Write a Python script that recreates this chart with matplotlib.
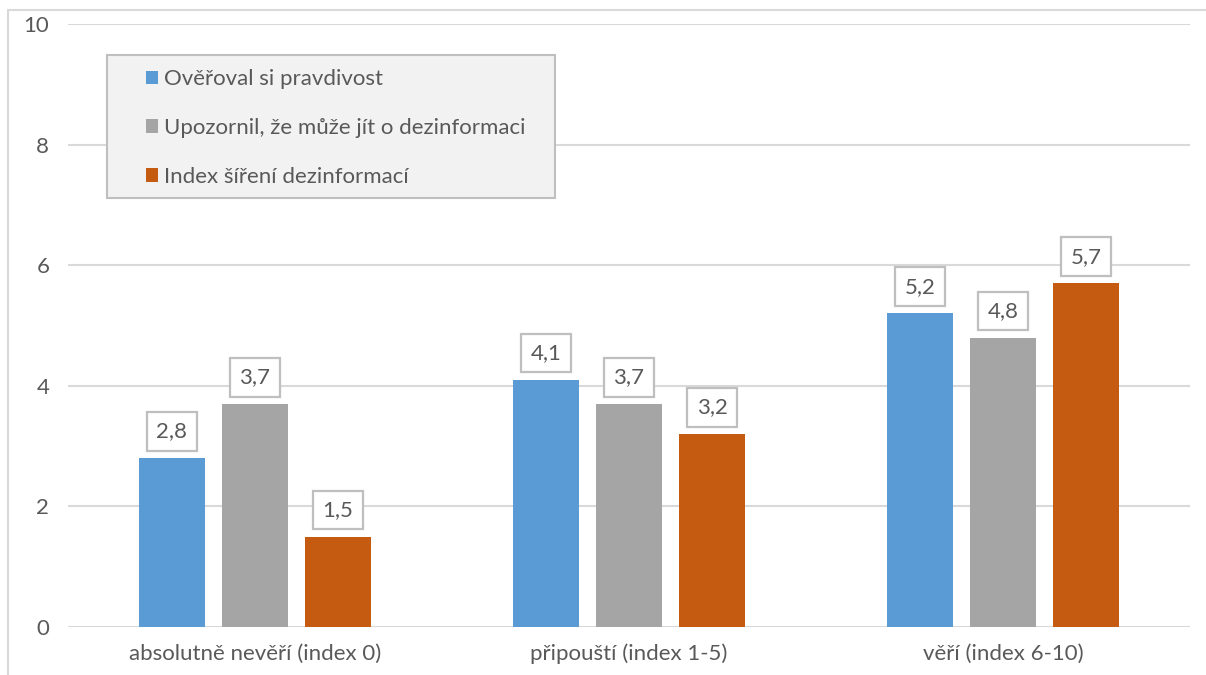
import numpy as np
import matplotlib.pyplot as plt
from matplotlib.patches import Rectangle

plt.rcParams['font.family'] = ['Lato', 'DejaVu Sans']

categories = ['absolutně nevěří (index 0)', 'připouští (index 1-5)', 'věří (index 6-10)']
series = ['Ověřoval si pravdivost', 'Upozornil, že může jít o dezinformaci', 'Index šíření dezinformací']
overoval = [2.8, 4.1, 5.2]
upozornil = [3.7, 3.7, 4.8]
index_sireni = [1.5, 3.2, 5.7]
colors = ['#5b9bd5', '#a5a5a5', '#c55a11']

text_col = '#595959'
grid_col = '#d9d9d9'

W, H = 1206, 675
fig = plt.figure(figsize=(W/100, H/100), dpi=100)
ax = fig.add_axes([68/W, 1-627/H, 1122/W, 603/H])

# outer chart frame
fig.patches.append(Rectangle((8/W, -0.1), 1.2, 1-10/H+0.1, transform=fig.transFigure,
                             fill=False, ec=grid_col, lw=1.5))

x = np.arange(len(categories))
w = 0.174
step = 0.222
for i, (vals, col, name) in enumerate(zip([overoval, upozornil, index_sireni], colors, series)):
    pos = x + (i - 1) * step
    ax.bar(pos, vals, width=w, color=col, label=name, zorder=3)
    for px, v in zip(pos, vals):
        ax.annotate(f'{v:.1f}'.replace('.', ','), (px, v), xytext=(0, 12), textcoords='offset points',
                    ha='center', va='bottom', fontsize=16, color=text_col, zorder=4,
                    bbox=dict(boxstyle='square,pad=0.42', fc='white', ec='#bfbfbf', lw=1.6))

ax.set_xlim(-0.5, 2.5)
ax.set_ylim(0, 10)
ax.set_yticks([0, 2, 4, 6, 8, 10])
ax.set_xticks(x)
ax.set_xticklabels(categories)
ax.tick_params(axis='both', length=0, labelsize=16, colors=text_col)
ax.tick_params(axis='y', pad=13.5)
ax.tick_params(axis='x', pad=12)
ax.grid(axis='y', color=grid_col, lw=1.5, zorder=0)
for s in ax.spines.values():
    s.set_visible(False)

# legend box drawn separately so the padding can be uneven
box = Rectangle((107/W, 1-198/H), 448/W, 143/H, transform=fig.transFigure,
                fc='#f2f2f2', ec='#bfbfbf', lw=1.5, zorder=5, clip_on=False)
ax.add_artist(box)
leg = ax.legend(loc='upper left', bbox_to_anchor=(78/1122, 558/603), borderaxespad=0,
                fontsize=16, frameon=False, handlelength=0.54, handleheight=0.54,
                handletextpad=0.25, labelspacing=1.3, borderpad=0, labelcolor=text_col)
leg.set_zorder(6)

fig.savefig('out.png', dpi=100)
